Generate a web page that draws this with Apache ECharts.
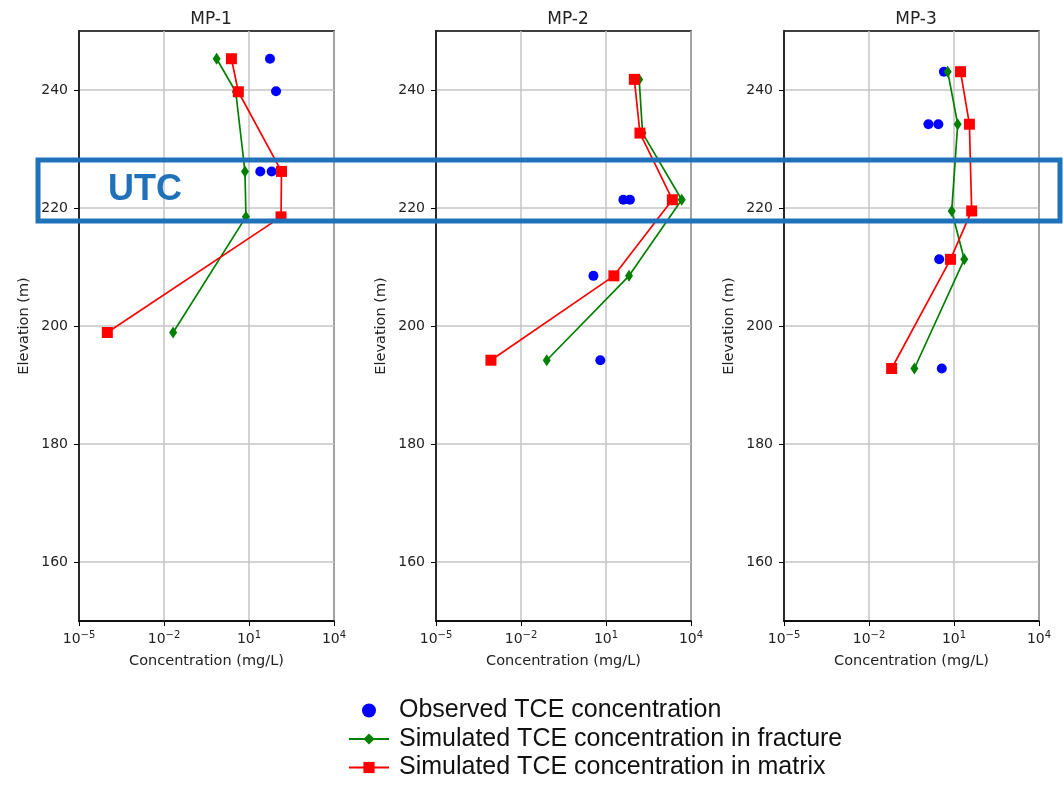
<!DOCTYPE html>
<html>
<head>
<meta charset="utf-8">
<title>TCE concentration profiles</title>
<script src="https://cdn.jsdelivr.net/npm/echarts@6/dist/echarts.min.js"></script>
<style>
    html, body { margin: 0; padding: 0; background: #fff; }
    #chart { width: 1063px; height: 786px; }
</style>
</head>
<body>
<div id="chart"></div>
<script>
// panel titles
const panels = ['MP-1', 'MP-2', 'MP-3'];
const yTicks = [160, 180, 200, 220, 240];

// MP-1
const mp1SimElev = [245.3, 239.7, 226.2, 218.5, 198.9];
const mp1Fracture = [0.72, 3.4, 7.2, 7.8, 0.021];
const mp1Matrix = [2.4, 4.2, 140, 135, 0.0001];
const mp1ObsElev = [245.3, 239.8, 226.2, 226.2];
const mp1Obs = [55, 90, 25, 63];

// MP-2
const mp2SimElev = [241.8, 232.7, 221.4, 208.5, 194.2];
const mp2Fracture = [148, 195, 4700, 65, 0.081];
const mp2Matrix = [100, 158, 2200, 19, 0.00087];
const mp2ObsElev = [221.4, 221.4, 208.5, 194.2];
const mp2Obs = [41, 70, 3.6, 6.3];

// MP-3
const mp3SimElev = [243.1, 234.2, 219.5, 211.3, 192.8];
const mp3Fracture = [6, 13.5, 8.3, 23, 0.4];
const mp3Matrix = [17, 35, 42, 7.5, 0.063];
const mp3ObsElev = [243.1, 234.2, 234.2, 211.3, 192.8];
const mp3Obs = [4.4, 1.25, 2.8, 3.0, 3.7];

const obsName = 'Observed TCE concentration';
const fracName = 'Simulated TCE concentration in fracture';
const matName = 'Simulated TCE concentration in matrix';

const lefts = [79, 436, 784];
const font = 'DejaVu Sans';

function pairs (xs, ys) {
    return xs.map((x, i) => [x, ys[i]]);
}

const sets = [
    { obs: pairs(mp1Obs, mp1ObsElev), frac: pairs(mp1Fracture, mp1SimElev), mat: pairs(mp1Matrix, mp1SimElev) },
    { obs: pairs(mp2Obs, mp2ObsElev), frac: pairs(mp2Fracture, mp2SimElev), mat: pairs(mp2Matrix, mp2SimElev) },
    { obs: pairs(mp3Obs, mp3ObsElev), frac: pairs(mp3Fracture, mp3SimElev), mat: pairs(mp3Matrix, mp3SimElev) },
];

let grid = [], xAxis = [], yAxis = [], series = [], title = [];

panels.forEach((name, i) => {
    grid.push({
        left: lefts[i], top: 31, width: 255, height: 590,
        show: true, borderColor: '#000', borderWidth: 1.5, backgroundColor: '#fff'
    });
    title.push({
        text: name, left: lefts[i] + 127, top: 6, textAlign: 'center',
        textStyle: { fontFamily: font, fontSize: 17, fontWeight: 'normal', color: '#222' }
    });
    xAxis.push({
        type: 'log', logBase: 10, gridIndex: i,
        min: 1e-5, max: 1e4, interval: 3,
        name: 'Concentration (mg/L)', nameLocation: 'middle', nameGap: 33,
        nameTextStyle: { fontFamily: font, fontSize: 14.5, color: '#222' },
        axisLine: { show: true, lineStyle: { color: '#000', width: 1.5 } },
        axisTick: { show: true, length: 5, lineStyle: { color: '#000' } },
        minorTick: { show: false },
        splitLine: { show: true, lineStyle: { color: '#c4c4c4', width: 1.5 } },
        axisLabel: {
            margin: 9, color: '#222', fontFamily: font, fontSize: 14,
            formatter: (v) => '10{sup|' + Math.round(Math.log10(v)).toString().replace('-', '\u2212') + '}',
            rich: {
                sup: { fontSize: 10, fontFamily: font, color: '#222', verticalAlign: 'top', padding: [0, 0, 8, 0] }
            }
        }
    });
    yAxis.push({
        type: 'value', gridIndex: i, min: 150, max: 250,
        name: 'Elevation (m)', nameLocation: 'middle', nameGap: 47, nameRotate: 90,
        nameTextStyle: { fontFamily: font, fontSize: 14.5, color: '#222' },
        axisLine: { show: true, lineStyle: { color: '#000', width: 1.5 } },
        axisTick: { show: true, length: 5, lineStyle: { color: '#000' }, customValues: yTicks },
        splitLine: { show: true, lineStyle: { color: '#c4c4c4', width: 1.5 } },
        axisLabel: { margin: 11, color: '#222', fontFamily: font, fontSize: 14, customValues: yTicks }
    });
    const d = sets[i];
    series.push({
        name: obsName, type: 'scatter', xAxisIndex: i, yAxisIndex: i,
        data: d.obs, symbol: 'circle', symbolSize: 10,
        itemStyle: { color: '#0000ff', opacity: 1 }, z: 2
    });
    series.push({
        name: fracName, type: 'line', xAxisIndex: i, yAxisIndex: i,
        data: d.frac, symbol: 'diamond', symbolSize: [8, 12],
        lineStyle: { color: '#008000', width: 1.7 },
        itemStyle: { color: '#008000' }, z: 3
    });
    series.push({
        name: matName, type: 'line', xAxisIndex: i, yAxisIndex: i,
        data: d.mat, symbol: 'rect', symbolSize: 11,
        lineStyle: { color: '#ff0000', width: 1.7 },
        itemStyle: { color: '#ff0000' }, z: 4
    });
});

const chart = echarts.init(document.getElementById('chart'), null, { renderer: 'canvas' });

chart.setOption({
    animation: false,
    backgroundColor: '#fff',
    title: title,
    grid: grid,
    xAxis: xAxis,
    yAxis: yAxis,
    series: series,
    legend: {
        orient: 'vertical', left: 348, top: 698, padding: 0,
        itemWidth: 40, itemHeight: 14, itemGap: 3.5,
        textStyle: { fontFamily: 'Liberation Sans', fontSize: 25, lineHeight: 25, color: '#111', padding: [0, 0, 0, 5] },
        data: [obsName, fracName, matName]
    },
    graphic: [
        // UTC zone annotation
        {
            type: 'rect', z: 100,
            shape: { x: 38, y: 160, width: 1022, height: 61 },
            style: { fill: 'none', stroke: '#1f72ba', lineWidth: 5 }
        },
        {
            type: 'text', z: 100, left: 108, top: 172,
            style: { text: 'UTC', fill: '#1f72ba', font: 'bold 36px "Liberation Sans"' }
        }
    ]
});
</script>
</body>
</html>
